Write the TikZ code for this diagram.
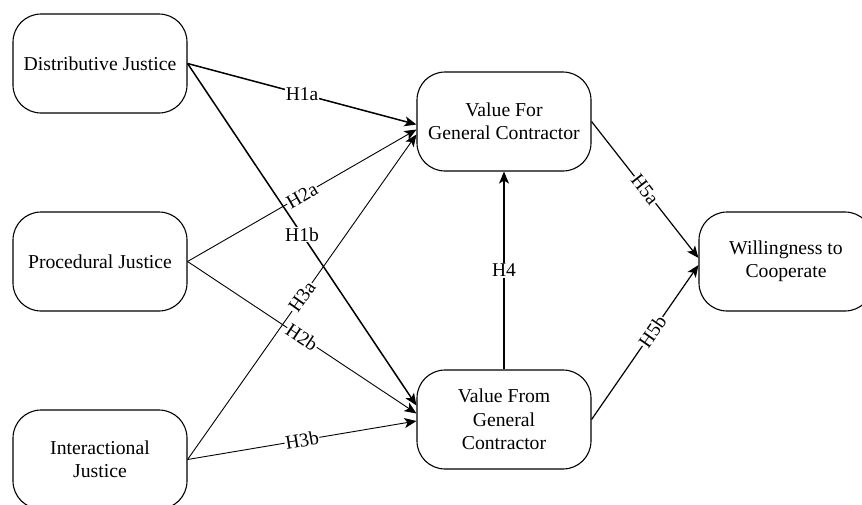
\documentclass[tikz,border=0pt]{standalone}
\usepackage{fontspec}
\setmainfont{Liberation Serif}
\usetikzlibrary{arrows.meta}
\begin{document}
\begin{tikzpicture}[x=1pt,y=-1pt,
  box/.style={draw, line width=1.1pt, rounded corners=28pt, minimum width=174pt, minimum height=99pt, align=center, inner sep=0pt, font=\fontsize{19.7}{23.5}\selectfont},
  arr/.style={-{Stealth[length=12pt, width=10pt, inset=3pt]}},
  thick1/.style={arr, line width=1.5pt},
  thin1/.style={arr, line width=0.9pt},
  mid1/.style={arr, line width=1.2pt},
  lbl/.style={midway, fill=white, inner sep=0.8pt, font=\fontsize{19.5}{22}\selectfont}
]
\clip (0,0) rectangle (862,504);
\fill[white] (0,0) rectangle (862,504);
\node[box] (dj) at (100,63.5) {Distributive Justice};
\node[box] (pj) at (100,261.5) {Procedural Justice};
\node[box] (ij) at (100,459.5) {Interactional\\Justice};
\node[box] (vf) at (504,121.5) {Value For\\General Contractor};
\node[box] (vr) at (504,419.5) {Value From\\General\\Contractor};
\node[box] (wc) at (786,261.5) {Willingness to\\Cooperate};

\draw[thin1] (pj.east) -- ([yshift=-8pt]vf.west) node[lbl, sloped] {H2a};
\draw[thin1] (pj.east) -- ([yshift=6pt]vr.west) node[lbl, sloped] {H2b};
\draw[thick1] (dj.east) -- ([yshift=-3pt]vf.west) node[lbl] {H1a};
\draw[thick1] (dj.east) -- ([yshift=14pt]vr.west) node[lbl] {H1b};
\draw[thin1] (ij.east) -- ([yshift=-13pt]vf.west) node[lbl, sloped] {H3a};
\draw[thin1] (ij.east) -- ([yshift=-1.5pt]vr.west) node[lbl, sloped] {H3b};
\draw[mid1] (vr.north) -- (vf.south) node[lbl] {H4};
\draw[mid1] (vf.east) -- ([yshift=3.5pt]wc.west) node[lbl, sloped] {H5a};
\draw[mid1] (vr.east) -- ([yshift=-3.5pt]wc.west) node[lbl, sloped, pos=0.57] {H5b};
\end{tikzpicture}
\end{document}
